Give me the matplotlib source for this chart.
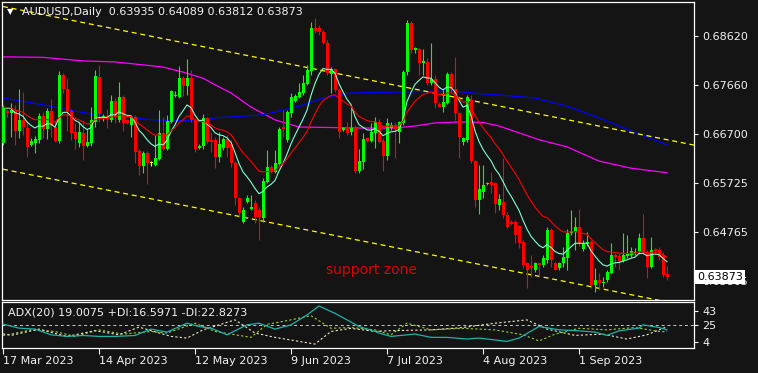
"""
AUDUSD daily chart (MetaTrader style) with moving averages, channel and ADX(20).
"""

import numpy as np
import pandas as pd
import matplotlib
matplotlib.use("Agg")
import matplotlib.pyplot as plt
import matplotlib.transforms as mtransforms

# bar index 0 = 17 Mar 2023, broker prints Sunday bars too (6 bars a week)
opens = [0.6652, 0.6714, 0.6710, 0.6714, 0.6675, 0.6697, 0.6681, 0.6648, 0.6652, 0.6657,
         0.6705, 0.6679, 0.6714, 0.6683, 0.6655, 0.6785, 0.6758, 0.6714, 0.6673, 0.6652,
         0.6671, 0.6646, 0.6652, 0.6693, 0.6781, 0.6699, 0.6705, 0.6697, 0.6734, 0.6697,
         0.6742, 0.6697, 0.6687, 0.6703, 0.6636, 0.6606, 0.6632, 0.6612, 0.6608, 0.6620,
         0.6671, 0.6640, 0.6693, 0.6744, 0.6742, 0.6779, 0.6764, 0.6779, 0.6697, 0.6642,
         0.6646, 0.6701, 0.6657, 0.6657, 0.6624, 0.6642, 0.6659, 0.6650, 0.6612, 0.6543,
         0.6496, 0.6535, 0.6522, 0.6533, 0.6520, 0.6504, 0.6575, 0.6604, 0.6594, 0.6610,
         0.6683, 0.6657, 0.6710, 0.6734, 0.6742, 0.6750, 0.6768, 0.6793, 0.6878, 0.6878,
         0.6870, 0.6848, 0.6787, 0.6797, 0.6756, 0.6677, 0.6683, 0.6673, 0.6681, 0.6596,
         0.6614, 0.6661, 0.6655, 0.6671, 0.6693, 0.6655, 0.6626, 0.6681, 0.6687, 0.6673,
         0.6691, 0.6791, 0.6888, 0.6834, 0.6836, 0.6809, 0.6811, 0.6770, 0.6777, 0.6728,
         0.6722, 0.6730, 0.6787, 0.6758, 0.6710, 0.6653, 0.6657, 0.6736, 0.6616, 0.6539,
         0.6555, 0.6571, 0.6575, 0.6573, 0.6530, 0.6535, 0.6510, 0.6496, 0.6496, 0.6488,
         0.6457, 0.6416, 0.6410, 0.6402, 0.6416, 0.6412, 0.6421, 0.6480, 0.6416, 0.6406,
         0.6416, 0.6425, 0.6474, 0.6477, 0.6486, 0.6443, 0.6453, 0.6457, 0.6372, 0.6382,
         0.6376, 0.6382, 0.6396, 0.6431, 0.6429, 0.6420, 0.6429, 0.6431, 0.6435, 0.6437,
         0.6465, 0.6437, 0.6408, 0.6443, 0.6441, 0.6431, 0.63935]
highs = [0.6726, 0.6718, 0.6730, 0.6726, 0.6758, 0.6752, 0.6693, 0.6661, 0.6665, 0.6710,
         0.6712, 0.6720, 0.6738, 0.6693, 0.6793, 0.6789, 0.6779, 0.6718, 0.6691, 0.6693,
         0.6697, 0.6679, 0.6722, 0.6795, 0.6805, 0.6709, 0.6718, 0.6746, 0.6740, 0.6771,
         0.6746, 0.6699, 0.6705, 0.6707, 0.6640, 0.6636, 0.6636, 0.6616, 0.6667, 0.6716,
         0.6703, 0.6707, 0.6756, 0.6754, 0.6803, 0.6783, 0.6817, 0.6795, 0.6701, 0.6650,
         0.6709, 0.6703, 0.6673, 0.6663, 0.6673, 0.6663, 0.6667, 0.6657, 0.6616, 0.6545,
         0.6526, 0.6549, 0.6549, 0.6539, 0.6526, 0.6583, 0.6638, 0.6608, 0.6638, 0.6683,
         0.6716, 0.6716, 0.6750, 0.6748, 0.6770, 0.6785, 0.6805, 0.6890, 0.6897, 0.6884,
         0.6874, 0.6854, 0.6801, 0.6799, 0.6760, 0.6683, 0.6693, 0.6722, 0.6687, 0.6640,
         0.6671, 0.6663, 0.6691, 0.6703, 0.6699, 0.6661, 0.6701, 0.6693, 0.6693, 0.6695,
         0.6795, 0.6893, 0.6891, 0.6840, 0.6838, 0.6836, 0.6819, 0.6848, 0.6785, 0.6732,
         0.6756, 0.6791, 0.6791, 0.6821, 0.6712, 0.6663, 0.6746, 0.6746, 0.6618, 0.6608,
         0.6608, 0.6575, 0.6594, 0.6575, 0.6551, 0.6622, 0.6516, 0.6500, 0.6500, 0.6490,
         0.6461, 0.6418, 0.6431, 0.6418, 0.6418, 0.6431, 0.6486, 0.6484, 0.6418, 0.6418,
         0.6447, 0.6482, 0.6520, 0.6506, 0.6522, 0.6461, 0.6477, 0.6461, 0.6406, 0.6396,
         0.6388, 0.6402, 0.6455, 0.6435, 0.6435, 0.6475, 0.6471, 0.6447, 0.6445, 0.6475,
         0.6512, 0.6441, 0.6467, 0.6445, 0.6447, 0.6437, 0.64089]
lows = [0.6648, 0.6703, 0.6663, 0.6648, 0.6661, 0.6667, 0.6624, 0.6646, 0.6632, 0.6652,
        0.6661, 0.6659, 0.6663, 0.6653, 0.6652, 0.6750, 0.6675, 0.6657, 0.6640, 0.6644,
        0.6618, 0.6644, 0.6646, 0.6683, 0.6693, 0.6695, 0.6681, 0.6693, 0.6691, 0.6693,
        0.6675, 0.6689, 0.6663, 0.6612, 0.6589, 0.6592, 0.6571, 0.6606, 0.6606, 0.6618,
        0.6638, 0.6638, 0.6691, 0.6742, 0.6740, 0.6744, 0.6746, 0.6693, 0.6634, 0.6640,
        0.6640, 0.6652, 0.6634, 0.6602, 0.6614, 0.6638, 0.6624, 0.6604, 0.6530, 0.6506,
        0.6494, 0.6533, 0.6520, 0.6494, 0.6461, 0.6496, 0.6573, 0.6592, 0.6592, 0.6608,
        0.6663, 0.6653, 0.6703, 0.6732, 0.6740, 0.6746, 0.6766, 0.6785, 0.6868, 0.6864,
        0.6846, 0.6785, 0.6750, 0.6752, 0.6661, 0.6675, 0.6667, 0.6667, 0.6592, 0.6592,
        0.6600, 0.6653, 0.6653, 0.6642, 0.6652, 0.6596, 0.6618, 0.6677, 0.6622, 0.6652,
        0.6687, 0.6785, 0.6829, 0.6829, 0.6785, 0.6785, 0.6766, 0.6766, 0.6720, 0.6722,
        0.6712, 0.6728, 0.6750, 0.6697, 0.6622, 0.6648, 0.6653, 0.6612, 0.6526, 0.6512,
        0.6543, 0.6569, 0.6553, 0.6514, 0.6520, 0.6504, 0.6484, 0.6490, 0.6455, 0.6445,
        0.6406, 0.6366, 0.6388, 0.6398, 0.6388, 0.6408, 0.6416, 0.6408, 0.6402, 0.6402,
        0.6408, 0.6402, 0.6471, 0.6441, 0.6449, 0.6439, 0.6449, 0.6366, 0.6358, 0.6362,
        0.6368, 0.6378, 0.6394, 0.6408, 0.6402, 0.6418, 0.6425, 0.6427, 0.6431, 0.6435,
        0.6435, 0.6386, 0.6406, 0.6435, 0.6421, 0.6388, 0.63812]
closes = [0.6722, 0.6710, 0.6716, 0.6675, 0.6697, 0.6683, 0.6644, 0.6655, 0.6659, 0.6705,
          0.6679, 0.6714, 0.6685, 0.6655, 0.6785, 0.6758, 0.6714, 0.6671, 0.6659, 0.6673,
          0.6646, 0.6653, 0.6697, 0.6783, 0.6709, 0.6705, 0.6699, 0.6734, 0.6703, 0.6742,
          0.6691, 0.6691, 0.6703, 0.6634, 0.6606, 0.6632, 0.6612, 0.6612, 0.6622, 0.6671,
          0.6640, 0.6695, 0.6754, 0.6746, 0.6779, 0.6764, 0.6779, 0.6697, 0.6640, 0.6646,
          0.6701, 0.6653, 0.6653, 0.6624, 0.6650, 0.6659, 0.6642, 0.6612, 0.6543, 0.6514,
          0.6520, 0.6543, 0.6526, 0.6506, 0.6506, 0.6577, 0.6604, 0.6594, 0.6612, 0.6679,
          0.6679, 0.6712, 0.6742, 0.6744, 0.6752, 0.6770, 0.6795, 0.6878, 0.6872, 0.6870,
          0.6848, 0.6789, 0.6797, 0.6756, 0.6673, 0.6681, 0.6671, 0.6681, 0.6596, 0.6617,
          0.6659, 0.6655, 0.6673, 0.6693, 0.6653, 0.6626, 0.6691, 0.6687, 0.6679, 0.6693,
          0.6791, 0.6888, 0.6834, 0.6838, 0.6809, 0.6813, 0.6770, 0.6777, 0.6730, 0.6722,
          0.6732, 0.6787, 0.6758, 0.6710, 0.6663, 0.6661, 0.6742, 0.6616, 0.6539, 0.6561,
          0.6569, 0.6573, 0.6569, 0.6532, 0.6542, 0.6510, 0.6486, 0.6492, 0.6471, 0.6455,
          0.6412, 0.6402, 0.6406, 0.6416, 0.6412, 0.6425, 0.6480, 0.6421, 0.6402, 0.6416,
          0.6427, 0.6474, 0.6478, 0.6486, 0.6455, 0.6453, 0.6457, 0.6372, 0.6382, 0.6376,
          0.6378, 0.6398, 0.6431, 0.6427, 0.6420, 0.6431, 0.6433, 0.6439, 0.6437, 0.6465,
          0.6437, 0.6408, 0.6441, 0.6439, 0.6427, 0.6392, 0.63873]

date_ticks = [0, 24, 48, 72, 96, 120, 144]
date_labels = ["17 Mar 2023", "14 Apr 2023", "12 May 2023", "9 Jun 2023",
               "7 Jul 2023", "4 Aug 2023", "1 Sep 2023"]
price_ticks = [0.68620, 0.67660, 0.66700, 0.65725, 0.64765, 0.63805]
last_price = 0.63873

# slow moving averages as (bar index, price)
mag_x = [0, 10, 20, 28, 40, 45, 50, 53, 57, 62, 68, 74, 82, 90, 98, 103, 108, 114,
         120, 124, 134, 141, 149, 157, 166]
mag_y = [0.6821, 0.6820, 0.6813, 0.6811, 0.6801, 0.6791, 0.6779, 0.6766, 0.6750, 0.6722,
         0.6697, 0.6683, 0.6682, 0.6681, 0.6681, 0.6685, 0.6691, 0.6693, 0.6692, 0.6685,
         0.6658, 0.6644, 0.6616, 0.6602, 0.6593]
blue_x = [0, 3, 6, 9, 13, 16, 19, 23, 29, 38, 48, 53, 57, 65, 74, 80, 87, 101, 112,
          120, 124, 133, 141, 149, 158, 166]
blue_y = [0.6740, 0.6736, 0.6732, 0.6728, 0.6722, 0.6717, 0.6713, 0.6707, 0.6703, 0.6697,
          0.6695, 0.6701, 0.6703, 0.6707, 0.6724, 0.6740, 0.6750, 0.6752, 0.6754, 0.6748,
          0.6746, 0.6740, 0.6724, 0.6701, 0.6672, 0.6648]

# trend channel end points
channel_x = [0, 173]
channel_upper = [0.6920, 0.6647]
channel_lower = [0.6600, 0.6328]

# ADX(20) panel
adx_x = [0, 4, 8, 12, 16, 20, 24, 28, 33, 37, 41, 46, 49, 52, 56, 61, 64, 68, 72, 76,
         79, 83, 86, 89, 93, 94, 97, 103, 107, 111, 116, 119, 126, 129, 134, 139, 144,
         148, 151, 154, 159, 160, 164, 166]
adx_val = [26.3, 21.2, 20.0, 12.8, 10.7, 11.9, 10.7, 10.7, 11.9, 20.0, 16.2, 27.5, 23.3,
           21.2, 12.8, 25.4, 27.5, 20.0, 25.4, 38.0, 49.3, 40.0, 31.7, 23.3, 17.0, 15.0,
           10.7, 13.7, 9.5, 9.5, 7.4, 8.6, 4.4, 8.6, 23.3, 19.1, 17.8, 16.2, 12.0, 17.8,
           21.2, 25.4, 22.0, 19.0]
pdi_x = [0, 2, 7, 13, 18, 24, 30, 37, 41, 48, 53, 58, 62, 66, 72, 77, 82, 87, 93, 97,
         101, 107, 115, 123, 130, 134, 138, 144, 151, 158, 164, 166]
pdi_val = [12.0, 13.6, 19.0, 17.0, 10.7, 19.0, 13.6, 17.0, 15.0, 27.5, 17.0, 12.8, 9.5,
           26.0, 31.7, 37.0, 21.0, 22.0, 19.0, 12.8, 27.5, 19.0, 21.0, 19.0, 12.8, 5.0,
           13.6, 21.0, 19.0, 22.0, 17.0, 16.6]
mdi_x = [0, 2, 9, 16, 23, 29, 34, 42, 46, 50, 58, 63, 68, 74, 78, 82, 87, 93, 97, 107,
         115, 123, 131, 136, 143, 150, 156, 161, 165, 166]
mdi_val = [14.0, 12.0, 20.0, 10.7, 18.0, 12.8, 22.5, 10.7, 8.6, 19.0, 31.7, 15.0, 9.5,
           4.4, 1.0, 17.0, 21.0, 17.0, 18.0, 19.0, 22.0, 27.5, 31.7, 20.0, 12.0, 13.6,
           7.4, 12.8, 21.0, 22.8]
adx_ticks = [43, 25, 4]

BG = "#141414"
GREEN = "#00ff00"
RED = "#ff0000"
YELLOW = "#ffff00"
TXT = "#f2f2f2"

plt.rcParams["font.family"] = "DejaVu Sans"

fig = plt.figure(figsize=(7.58, 3.73), dpi=100, facecolor=BG)
W, H = 758.0, 373.0
ax = fig.add_axes([2 / W, 1 - 300 / H, 692 / W, 298 / H], facecolor=BG)
ax2 = fig.add_axes([2 / W, 1 - 348 / H, 692 / W, 46 / H], facecolor=BG, sharex=ax)

# --- candles ---
o, hi, lo, c = map(np.array, (opens, highs, lows, closes))
idx = np.arange(len(c))
cols = np.where(c > o, GREEN, np.where(c < o, RED, YELLOW))
ax.vlines(idx, lo, hi, colors=cols, lw=0.8, zorder=3)
ax.bar(idx, np.maximum(np.abs(c - o), 0.00012), bottom=np.minimum(o, c),
       width=0.75, color=cols, linewidth=0, zorder=4)

# --- moving averages ---
s = pd.Series(closes)
ax.plot(idx, s.ewm(span=10, adjust=False).mean(), color="#7fffd4", lw=0.8, zorder=5)
ax.plot(idx, s.ewm(span=21, adjust=False).mean(), color=RED, lw=0.8, zorder=5)
ax.plot(mag_x, mag_y, color="#ff00ff", lw=0.9, zorder=2)
ax.plot(blue_x, blue_y, color="#0000ff", lw=0.9, zorder=2)

# --- channel ---
ax.plot(channel_x, channel_upper, color=YELLOW, lw=0.9, ls=(0, (4, 3)), zorder=2)
ax.plot(channel_x, channel_lower, color=YELLOW, lw=0.9, ls=(0, (4, 3)), zorder=2)

ax.text(80.75, 0.6402, "support zone", color="#e00000", fontsize=10,
        ha="left", va="center", zorder=6)

ax.set_xlim(-0.25, 172.75)
ax.set_ylim(0.63427, 0.69289)
ax.yaxis.tick_right()
ax.set_yticks(price_ticks)
ax.set_yticklabels([f"{p:.5f}" for p in price_ticks])
ax.tick_params(axis="y", colors=TXT, labelsize=8, length=3, width=0.8, pad=3)
ax.tick_params(axis="x", bottom=False, labelbottom=False)

trans = mtransforms.blended_transform_factory(ax.transAxes, ax.transData)
ax.text(1.004, last_price, f"{last_price:.5f}", transform=trans, color="black",
        fontsize=8, ha="left", va="center", clip_on=False, zorder=20,
        bbox=dict(boxstyle="square,pad=0.18", fc="white", ec="none"))

# --- ADX panel ---
ax2.plot(adx_x, adx_val, color="#20b2aa", lw=0.9, zorder=4)
ax2.plot(pdi_x, pdi_val, color="#9acd32", lw=0.8, ls=(0, (2, 2)), zorder=3)
ax2.plot(mdi_x, mdi_val, color="#efe6cc", lw=0.8, ls=(0, (2, 2)), zorder=3)
ax2.axhline(25, color="#c8c8c8", lw=0.7, ls=(0, (3, 3)), zorder=2)
ax2.set_ylim(-4.0, 54.4)
ax2.yaxis.tick_right()
ax2.set_yticks(adx_ticks)
ax2.set_yticklabels([str(t) for t in adx_ticks])
ax2.tick_params(axis="y", colors=TXT, labelsize=8, length=3, width=0.8, pad=3)
ax2.set_xticks(date_ticks)
ax2.set_xticklabels(date_labels)
for lab in ax2.get_xticklabels():
    lab.set_horizontalalignment("left")
ax2.tick_params(axis="x", colors=TXT, labelsize=8, length=4, width=0.8, pad=1.5)
ax2.text(0.008, 0.78, "ADX(20) 19.0075 +DI:16.5971 -DI:22.8273", transform=ax2.transAxes,
         color=TXT, fontsize=8, ha="left", va="center", zorder=6)

for a in (ax, ax2):
    for sp in a.spines.values():
        sp.set_color("white")
        sp.set_linewidth(0.9)

fig.text(7 / W, 1 - 12 / H, "\u25bc", color="white", fontsize=6, ha="left", va="center")
fig.text(22 / W, 1 - 12 / H, "AUDUSD,Daily  0.63935 0.64089 0.63812 0.63873",
         color=TXT, fontsize=8, ha="left", va="center")

fig.savefig("out.png", dpi=100, facecolor=BG)
